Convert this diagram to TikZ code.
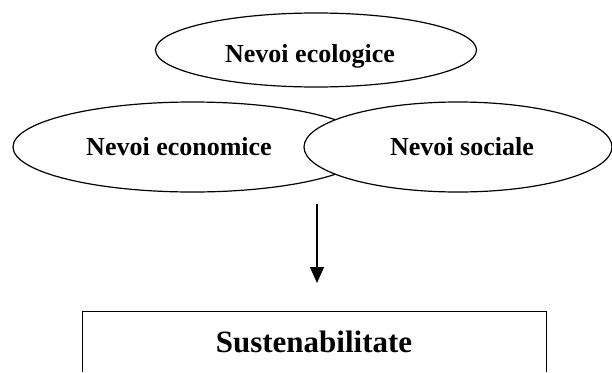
\documentclass[tikz,border=0pt]{standalone}
\usepackage{fontspec}
\setmainfont{Liberation Serif}
\usetikzlibrary{shapes.geometric,arrows.meta}
\begin{document}
\begin{tikzpicture}[x=1pt,y=-1pt,
  ell/.style={draw,ellipse,line width=1.2pt,inner sep=0pt,fill=white},
  lbl/.style={font=\fontsize{26}{30}\selectfont\bfseries,anchor=base,inner sep=0pt},
  big/.style={font=\fontsize{31}{36}\selectfont\bfseries,anchor=base,inner sep=0pt}]
\useasboundingbox (0,0) rectangle (612,372);
\node[ell,minimum width=321pt,minimum height=74pt] (eco) at (316,50) {};
\node[ell,minimum width=359pt,minimum height=90pt] (econ) at (192.5,147) {};
\node[ell,minimum width=308pt,minimum height=90pt] (soc) at (458,147) {};
\node[lbl] (tEco) at (310,62) {Nevoi ecologice};
\node[lbl] (tEcon) at (179,155) {Nevoi economice};
\node[lbl] (tSoc) at (462,155) {Nevoi sociale};
\coordinate (aS) at (317,204);
\coordinate (aE) at (317,283);
\draw[line width=1.2pt,-{Triangle[width=14pt,length=16pt]}] (aS) -- (aE);
\coordinate (bl) at (82,372);
\coordinate (tl) at (82,311);
\coordinate (tr) at (546,311);
\coordinate (br) at (546,372);
\draw[line width=1pt] (bl) -- (tl) -- (tr) -- (br);
\node[big] (tSus) at (314,352) {Sustenabilitate};
\end{tikzpicture}
\end{document}
